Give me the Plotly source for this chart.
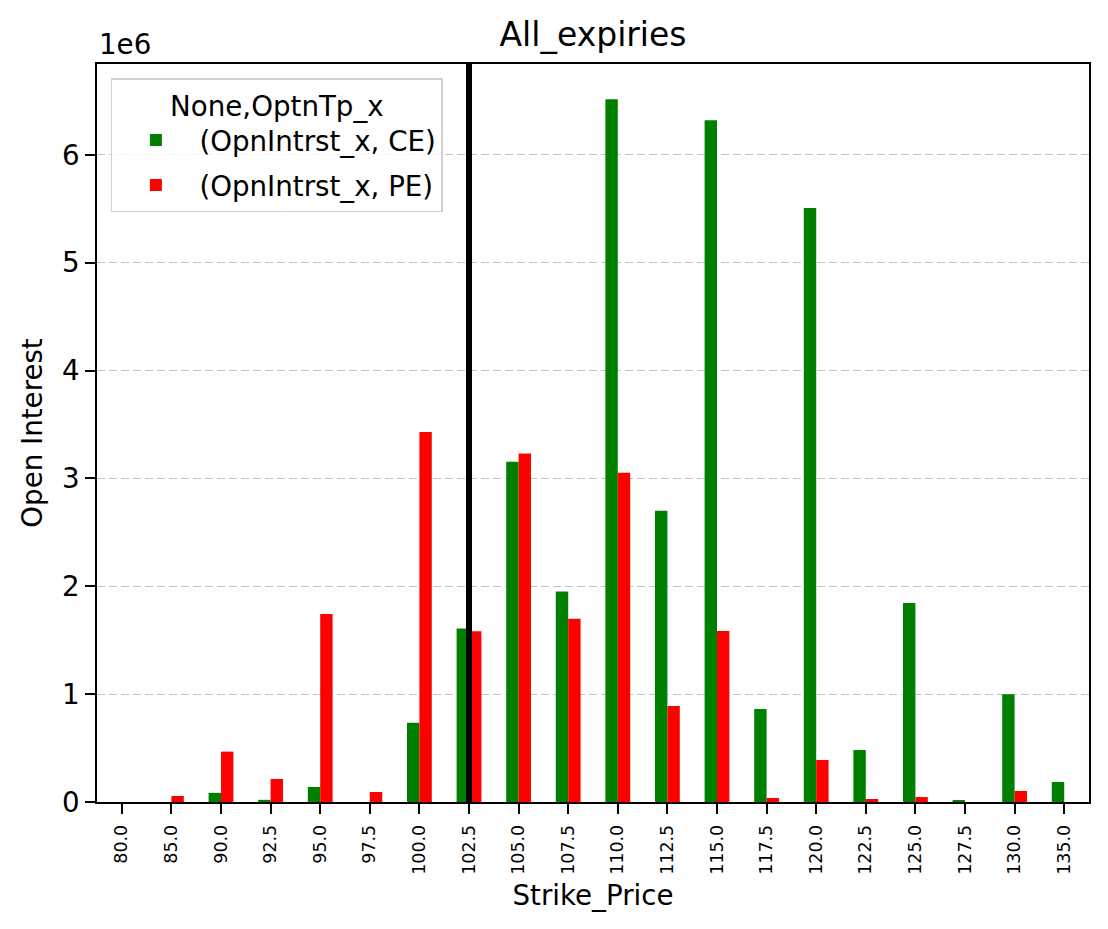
import plotly.graph_objects as go

# strike prices and open interest per option type
strikes = ["80.0", "85.0", "90.0", "92.5", "95.0", "97.5", "100.0", "102.5", "105.0", "107.5",
           "110.0", "112.5", "115.0", "117.5", "120.0", "122.5", "125.0", "127.5", "130.0", "135.0"]
ce_oi = [0, 0, 85000, 20000, 140000, 0, 735000, 1608000, 3155000, 1951000,
         6516000, 2700000, 6320000, 863000, 5506000, 482000, 1846000, 10000, 1000000, 186000]
pe_oi = [0, 56000, 467000, 213000, 1744000, 93000, 3430000, 1583000, 3230000, 1700000,
         3053000, 890000, 1586000, 37000, 390000, 28000, 46000, 0, 102000, 0]
spot_strike = "102.5"

y_ticks = [0, 1, 2, 3, 4, 5, 6]
font = "DejaVu Sans"
fs = 27.7

fig = go.Figure()
fig.add_trace(go.Bar(x=strikes, y=ce_oi, name="(OpnIntrst_x, CE)", legendgroup="ce",
                     marker=dict(color="green", line_width=0)))
fig.add_trace(go.Bar(x=strikes, y=pe_oi, name="(OpnIntrst_x, PE)", legendgroup="pe",
                     marker=dict(color="red", line_width=0)))

# spot marker line (category index on the x axis)
spot_idx = strikes.index(spot_strike)
fig.add_shape(type="line", xref="x", yref="paper", x0=spot_idx, x1=spot_idx, y0=0, y1=1,
              line=dict(color="black", width=6))

ymax = max(ce_oi + pe_oi) * 1.05

fig.update_layout(
    width=1108, height=929,
    margin=dict(l=89, r=27, t=56, b=135),
    paper_bgcolor="white", plot_bgcolor="white",
    font=dict(family=font, size=fs, color="black"),
    title=dict(text="All_expiries", x=0.528, xanchor="center", y=0.971, yanchor="middle",
               font=dict(size=33)),
    barmode="group", bargap=0.5, bargroupgap=0,
    showlegend=True,
    legend=dict(
        title=dict(text="None,OptnTp_x", side="top center", font=dict(size=fs)),
        x=0.014, y=0.981, xanchor="left", yanchor="top",
        bgcolor="rgba(255,255,255,0.8)", bordercolor="#d0d0d0", borderwidth=1.5,
        font=dict(size=fs), tracegroupgap=6, itemwidth=77,
    ),
    xaxis=dict(
        title=dict(text="Strike_Price", font=dict(size=fs), standoff=12),
        type="category", tickangle=-90, tickfont=dict(size=17.5),
        showline=True, linecolor="black", linewidth=1.5, mirror=True,
        ticks="outside", ticklen=10, tickwidth=1.5, tickcolor="black", showgrid=False,
        ticklabelstandoff=4, automargin=False,
    ),
    yaxis=dict(
        title=dict(text="Open Interest", font=dict(size=fs), standoff=11),
        range=[0, ymax],
        tickvals=[v * 1e6 for v in y_ticks], ticktext=[str(v) for v in y_ticks],
        tickfont=dict(size=fs),
        showline=True, linecolor="black", linewidth=1.5, mirror=True,
        ticks="outside", ticklen=10, tickwidth=1.5, tickcolor="black",
        showgrid=True, gridcolor="#c4c4c4", griddash="8px,4px", gridwidth=1.3,
        zeroline=False, automargin=False,
    ),
)

fig.add_annotation(text="1e6", xref="paper", yref="paper", x=0, y=1.002, xanchor="left", yanchor="bottom",
                   showarrow=False, font=dict(size=fs))

fig.write_html("out.html")
